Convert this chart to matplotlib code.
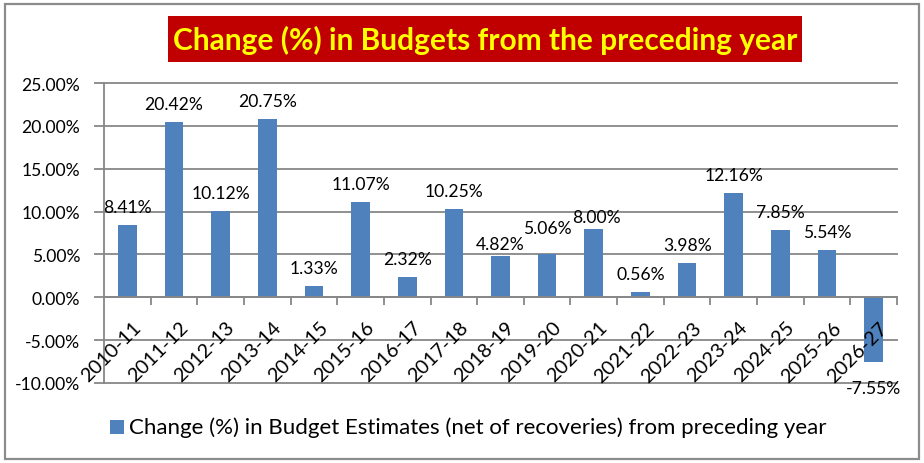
import matplotlib
matplotlib.use("Agg")
import matplotlib.pyplot as plt
from matplotlib.patches import Rectangle
from matplotlib.ticker import FuncFormatter, FixedLocator

years = ['2010-11', '2011-12', '2012-13', '2013-14', '2014-15', '2015-16',
         '2016-17', '2017-18', '2018-19', '2019-20', '2020-21', '2021-22',
         '2022-23', '2023-24', '2024-25', '2025-26', '2026-27']
changes = [8.41, 20.42, 10.12, 20.75, 1.33, 11.07, 2.32, 10.25, 4.82, 5.06,
           8.00, 0.56, 3.98, 12.16, 7.85, 5.54, -7.55]
y_ticks = [-10, -5, 0, 5, 10, 15, 20, 25]
title = 'Change (%) in Budgets from the preceding year'
legend_label = 'Change (%) in Budget Estimates (net of recoveries) from preceding year'

# label position tweaks (pixels), as in the original chart
label_dy = {8: 12, 9: 26, 10: 12}
label_dx = {10: 3}

FONT = ['Lato', 'DejaVu Sans']
plt.rcParams['font.family'] = FONT

W, H = 924, 464
fig = plt.figure(figsize=(W / 100, H / 100), dpi=100)
fig.patch.set_facecolor('white')

bar_color = '#4F81BD'
grid_color = '#878787'

left, right, top, bottom = 104, 897, 84, 384
ax = fig.add_axes([left / W, 1 - bottom / H, (right - left) / W, (bottom - top) / H])
ax.set_facecolor('none')

x = list(range(len(years)))
ax.bar(x, changes, width=0.4, color=bar_color, zorder=3)

ax.set_xlim(-0.5, len(years) - 0.5)
ax.set_ylim(y_ticks[0], y_ticks[-1])

ax.yaxis.set_major_locator(FixedLocator(y_ticks))
ax.yaxis.set_major_formatter(FuncFormatter(lambda v, p: f'{v:.2f}%'))
ax.tick_params(axis='y', direction='out', length=7, width=1.3, color=grid_color,
               pad=10, labelsize=12.6, labelcolor='black')
ax.yaxis.grid(True, color=grid_color, linewidth=1.3, zorder=1)
for gl in ax.get_ygridlines():
    gl.set_clip_on(False)

for s in ['top', 'right']:
    ax.spines[s].set_visible(False)
ax.spines['left'].set_color(grid_color)
ax.spines['left'].set_linewidth(1.3)
ax.spines['bottom'].set_position(('data', 0))
ax.spines['bottom'].set_color(grid_color)
ax.spines['bottom'].set_linewidth(1.3)
ax.spines['bottom'].set_zorder(4)

ax.set_xticks([i + 0.5 for i in x])
ax.set_xticklabels([])
ax.tick_params(axis='x', direction='out', length=6, width=1.3, color=grid_color)

for i, yr in enumerate(years):
    ax.annotate(yr, xy=(i, 0), xytext=(5, -21), textcoords='offset pixels',
                rotation=45, rotation_mode='anchor', ha='right', va='top',
                fontsize=14.3, color='black', zorder=5)

for i, v in enumerate(changes):
    dy = label_dy.get(i, 18) if v >= 0 else -26
    dx = label_dx.get(i, 0)
    ax.annotate(f'{v:.2f}%', xy=(i, v), xytext=(dx, dy), textcoords='offset pixels',
                ha='center', va='center', fontsize=12.6, color='black', zorder=5,
                annotation_clip=False)

# chart border
fig.patches.append(Rectangle((5 / W, 1 - 460 / H), 914 / W, 455 / H,
                             transform=fig.transFigure, facecolor='none',
                             edgecolor='#8c8c8c', linewidth=1.6))

# title box
fig.patches.append(Rectangle((168 / W, 1 - 63 / H), 634 / W, 46 / H,
                             transform=fig.transFigure, facecolor='#C00000',
                             edgecolor='none'))
fig.text(485 / W, 1 - 40 / H, title, ha='center', va='center',
         fontsize=21.5, fontweight='bold', color='#FFFF00')

# legend
fig.patches.append(Rectangle((110 / W, 1 - 435 / H), 14 / W, 14 / H,
                             transform=fig.transFigure, facecolor=bar_color,
                             edgecolor='none'))
fig.text(129 / W, 1 - 428 / H, legend_label, ha='left', va='center',
         fontsize=16, color='black')

fig.savefig('out.png', dpi=100, facecolor='white')
